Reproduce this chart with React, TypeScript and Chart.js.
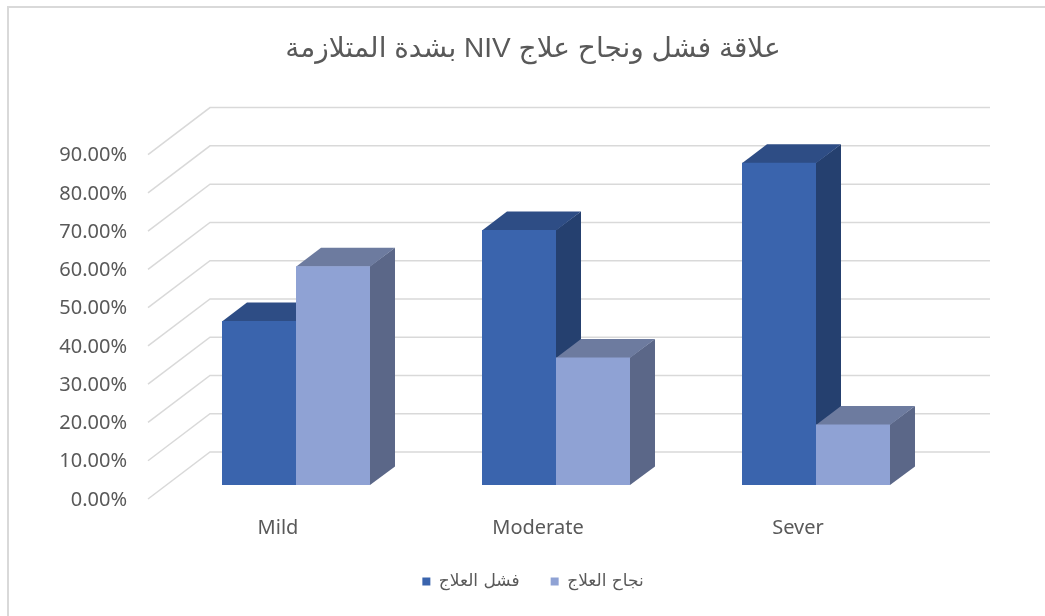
import React, { useEffect, useRef } from "react";
import { Chart, registerables } from "chart.js";

Chart.register(...registerables);

const categories = ["Mild", "Moderate", "Sever"];
const failValues = [42.86, 66.67, 84.21];
const successValues = [57.14, 33.33, 15.79];
const seriesNames = ["فشل العلاج", "نجاح العلاج"];
const titleText = "علاقة فشل ونجاح علاج NIV بشدة المتلازمة";
const yMin = 0;
const yMax = 90;
const yStep = 10;

const frontColors = ["#3A64AD", "#8FA2D4"];
const topColors = ["#2E4D85", "#6D7B9F"];
const sideColors = ["#25406F", "#5B6788"];

// oblique projection offsets relative to the bar plane
const FRONT = { dx: -18, dy: 14 };
const BACK = { dx: 44, dy: -33 };
const DEPTH = { dx: 25, dy: -18.5 };

const TICK_FONT = { family: "'Noto Sans', sans-serif", size: 20 };
const fmt = (v: number) => v.toFixed(2) + "%";

const threeD = {
  id: "threeD",
  beforeDraw(chart: any) {
    const ctx = chart.ctx;
    ctx.save();
    ctx.fillStyle = "#ffffff";
    ctx.fillRect(0, 0, chart.width, chart.height);
    ctx.strokeStyle = "#d9d9d9";
    ctx.lineWidth = 2;
    ctx.beginPath();
    ctx.moveTo(8, chart.height);
    ctx.lineTo(8, 7);
    ctx.lineTo(chart.width, 7);
    ctx.stroke();
    ctx.restore();
  },
  beforeDatasetsDraw(chart: any) {
    const ctx = chart.ctx;
    const { left, right } = chart.chartArea;
    const ys = chart.scales.y;
    ctx.save();
    ctx.strokeStyle = "#d9d9d9";
    ctx.lineWidth = 1.5;
    ys.ticks.forEach((t: any) => {
      const yy = ys.getPixelForValue(t.value);
      ctx.beginPath();
      ctx.moveTo(left + FRONT.dx, yy + FRONT.dy);
      ctx.lineTo(left + BACK.dx, yy + BACK.dy);
      ctx.lineTo(right + BACK.dx, yy + BACK.dy);
      ctx.stroke();
    });
    for (let i = 0; i < categories.length; i++) {
      chart.data.datasets.forEach((_ds: any, d: number) => {
        const meta = chart.getDatasetMeta(d);
        const el = meta.data[i];
        if (!el) return;
        const p = el.getProps(["x", "y", "base", "width"], true);
        const l = p.x - p.width / 2;
        const r = p.x + p.width / 2;
        const top = p.y;
        const base = p.base;
        ctx.fillStyle = sideColors[d];
        ctx.beginPath();
        ctx.moveTo(r, top);
        ctx.lineTo(r + DEPTH.dx, top + DEPTH.dy);
        ctx.lineTo(r + DEPTH.dx, base + DEPTH.dy);
        ctx.lineTo(r, base);
        ctx.closePath();
        ctx.fill();
        ctx.fillStyle = topColors[d];
        ctx.beginPath();
        ctx.moveTo(l, top + 0.5);
        ctx.lineTo(r, top + 0.5);
        ctx.lineTo(r + DEPTH.dx, top + DEPTH.dy);
        ctx.lineTo(l + DEPTH.dx, top + DEPTH.dy);
        ctx.closePath();
        ctx.fill();
      });
    }
    ctx.restore();
  },
};

export default function App() {
  const ref = useRef<HTMLCanvasElement | null>(null);
  useEffect(() => {
    if (!ref.current) return;
    // width of the widest y tick label, to right-align mirrored labels
    const mctx = document.createElement("canvas").getContext("2d")!;
    mctx.font = `${TICK_FONT.size}px ${TICK_FONT.family}`;
    let widest = 0;
    for (let v = yMin; v <= yMax; v += yStep) widest = Math.max(widest, mctx.measureText(fmt(v)).width);
    const chart = new Chart(ref.current, {
      type: "bar",
      data: {
        labels: categories,
        datasets: [
          {
            label: seriesNames[0],
            data: failValues,
            backgroundColor: frontColors[0],
            borderWidth: 0,
          },
          {
            label: seriesNames[1],
            data: successValues,
            backgroundColor: frontColors[1],
            borderWidth: 0,
          },
        ],
      },
      options: {
        responsive: false,
        animation: false,
        layout: { padding: { left: 120, right: 99, top: 0, bottom: 16 } },
        datasets: { bar: { categoryPercentage: 148 / 260, barPercentage: 1 } },
        plugins: {
          title: {
            display: true,
            text: titleText,
            color: "#595959",
            font: { family: "'Liberation Sans', 'DejaVu Sans', sans-serif", size: 28, weight: "normal" },
            padding: { top: 32, bottom: 75 },
          },
          legend: {
            position: "bottom",
            labels: {
              boxWidth: 8,
              boxHeight: 8,
              padding: 31,
              color: "#595959",
              font: { family: "'DejaVu Sans', sans-serif", size: 17 },
            },
          },
          tooltip: { enabled: false },
        },
        scales: {
          x: {
            grid: { display: false, drawTicks: false },
            border: { display: false },
            ticks: {
              color: "#595959",
              font: TICK_FONT,
              padding: 31,
              labelOffset: -18,
              maxRotation: 0,
            },
            afterFit(axis: any) {
              axis.height = 57;
            },
          },
          y: {
            min: yMin,
            max: yMax,
            grid: { display: false, drawTicks: false },
            border: { display: false },
            ticks: {
              stepSize: yStep,
              color: "#595959",
              font: TICK_FONT,
              mirror: true,
              crossAlign: "far",
              padding: -39 - widest,
              labelOffset: 15,
              autoSkip: false,
              callback: (v: any) => fmt(Number(v)),
            },
            afterFit(axis: any) {
              axis.width = 46;
            },
          },
        },
      },
      plugins: [threeD],
    });
    return () => chart.destroy();
  }, []);
  return (
    <div style={{ position: "fixed", left: 0, top: 0, width: 1045, height: 616, background: "#fff" }}>
      <canvas ref={ref} width={1045} height={616} dir="rtl" style={{ direction: "rtl" }} />
    </div>
  );
}
